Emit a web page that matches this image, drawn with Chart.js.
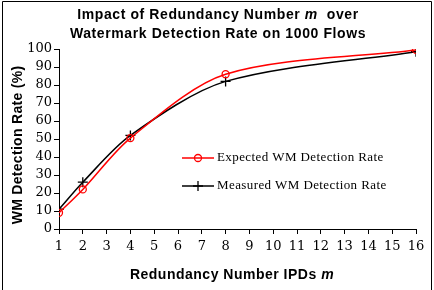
<!DOCTYPE html>
<html lang="en">
<head>
    <meta charset="UTF-8">
    <title>Impact of Redundancy Number m</title>
    <script src="https://cdn.jsdelivr.net/npm/chart.js"></script>
    <style>
        body { margin: 0; padding: 0; background: #fff; }
        #wrap { width: 434px; height: 290px; }
    </style>
</head>
<body>
    <div id="wrap"><canvas id="wmChart" width="434" height="290"></canvas></div>

    <script>
        // data
        const redundancy = [1, 2, 4, 8, 16];
        const expectedRate = [9, 22, 50.5, 86, 99.5];
        const measuredRate = [11, 26, 52, 82, 98.5];
        const xTicks = [1, 2, 3, 4, 5, 6, 7, 8, 9, 10, 11, 12, 13, 14, 15, 16];
        const yTicks = [0, 10, 20, 30, 40, 50, 60, 70, 80, 90, 100];

        const sansBold = 'bold 14px "Liberation Sans", Arial, sans-serif';
        const sansBoldItalic = 'italic bold 14px "Liberation Sans", Arial, sans-serif';
        const tickFont = "'DejaVu Serif', serif";

        // draws a line of text with some italic pieces, centred on x
        function drawMixed(ctx, parts, cx, y, spacing) {
            ctx.letterSpacing = spacing + 'px';
            let w = 0;
            parts.forEach(p => { ctx.font = p[1] ? sansBoldItalic : sansBold; w += ctx.measureText(p[0]).width; });
            let x = cx - w / 2;
            parts.forEach(p => {
                ctx.font = p[1] ? sansBoldItalic : sansBold;
                ctx.fillText(p[0], x, y);
                x += ctx.measureText(p[0]).width;
            });
            ctx.letterSpacing = '0px';
        }

        const decorPlugin = {
            id: 'decor',
            beforeDraw(chart) {
                const ctx = chart.ctx;
                ctx.save();
                ctx.fillStyle = '#fff';
                ctx.fillRect(0, 0, chart.width, chart.height);
                ctx.strokeStyle = '#000';
                ctx.lineWidth = 1;
                ctx.beginPath();
                ctx.moveTo(2.5, 290);
                ctx.lineTo(2.5, 1.5);
                ctx.lineTo(431.5, 1.5);
                ctx.lineTo(431.5, 290);
                ctx.stroke();
                ctx.restore();
            },
            afterDraw(chart) {
                const ctx = chart.ctx;
                ctx.save();
                ctx.fillStyle = '#000';
                ctx.textBaseline = 'middle';
                ctx.textAlign = 'left';
                drawMixed(ctx, [['Impact of Redundancy Number ', false], ['m', true], ['  over', false]], 218, 15, 0.6);
                drawMixed(ctx, [['Watermark Detection Rate on 1000 Flows', false]], 218, 34, 0.6);
                drawMixed(ctx, [['Redundancy Number IPDs ', false], ['m', true]], 232, 275, 0.5);

                ctx.save();
                ctx.translate(18, 145);
                ctx.rotate(-Math.PI / 2);
                drawMixed(ctx, [['WM Detection Rate (%)', false]], 0, 0, 0.3);
                ctx.restore();

                // legend inside the plot
                const rows = [
                    { label: 'Expected WM Detection Rate', ds: chart.data.datasets[0], y: 158 },
                    { label: 'Measured WM Detection Rate', ds: chart.data.datasets[1], y: 186 }
                ];
                rows.forEach(r => {
                    ctx.strokeStyle = r.ds.borderColor;
                    ctx.lineWidth = 1.5;
                    ctx.beginPath();
                    ctx.moveTo(182, r.y);
                    ctx.lineTo(214, r.y);
                    ctx.stroke();
                    ctx.fillStyle = 'rgba(0,0,0,0)';
                    ctx.lineWidth = 1.3;
                    Chart.helpers.drawPoint(ctx, {
                        pointStyle: r.ds.pointStyle,
                        radius: r.ds.pointRadius,
                        borderWidth: 1.3
                    }, 198, r.y);
                    ctx.fillStyle = '#000';
                    ctx.font = '13px "Liberation Serif", serif';
                    ctx.letterSpacing = '0.4px';
                    ctx.fillText(r.label, 217, r.y);
                    ctx.letterSpacing = '0px';
                });
                ctx.restore();
            }
        };

        const ctx = document.getElementById('wmChart').getContext('2d');

        new Chart(ctx, {
            type: 'line',
            data: {
                datasets: [
                    {
                        label: 'Expected WM Detection Rate',
                        data: redundancy.map((m, i) => ({ x: m, y: expectedRate[i] })),
                        borderColor: '#ff0000',
                        backgroundColor: 'rgba(0,0,0,0)',
                        borderWidth: 1.5,
                        pointStyle: 'circle',
                        pointRadius: 3.5,
                        pointBorderWidth: 1.3,
                        tension: 0.3
                    },
                    {
                        label: 'Measured WM Detection Rate',
                        data: redundancy.map((m, i) => ({ x: m, y: measuredRate[i] })),
                        borderColor: '#000000',
                        backgroundColor: 'rgba(0,0,0,0)',
                        borderWidth: 1.5,
                        pointStyle: 'cross',
                        pointRadius: 5,
                        pointBorderWidth: 1.3,
                        tension: 0.3
                    }
                ]
            },
            options: {
                responsive: false,
                animation: false,
                layout: { padding: { top: 49, right: 18, left: 0, bottom: 0 } },
                plugins: {
                    legend: { display: false },
                    title: { display: false },
                    tooltip: { enabled: false }
                },
                scales: {
                    x: {
                        type: 'linear',
                        min: 1,
                        max: 16,
                        afterBuildTicks: s => { s.ticks = xTicks.map(v => ({ value: v })); },
                        afterFit: s => { s.height = 61; },
                        grid: { display: true, drawOnChartArea: false, tickLength: 5, color: '#000' },
                        border: { color: '#000', width: 1 },
                        ticks: { color: '#000', font: { family: tickFont, size: 13 }, padding: 5, maxRotation: 0, autoSkip: false }
                    },
                    y: {
                        min: 0,
                        max: 100,
                        afterBuildTicks: s => { s.ticks = yTicks.map(v => ({ value: v })); },
                        afterFit: s => { s.width = 59; },
                        grid: { display: true, drawOnChartArea: false, tickLength: 5, color: '#000' },
                        border: { color: '#000', width: 1 },
                        ticks: { color: '#000', font: { family: tickFont, size: 13 }, padding: 2, autoSkip: false }
                    }
                }
            },
            plugins: [decorPlugin]
        });
    </script>
</body>
</html>
